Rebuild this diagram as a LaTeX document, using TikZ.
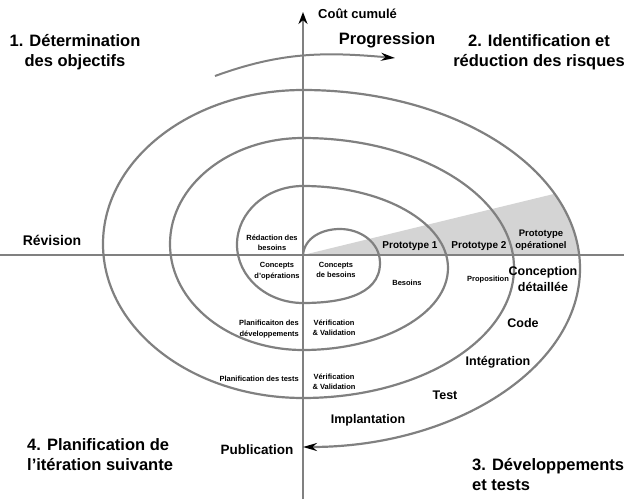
\documentclass[tikz,border=0pt]{standalone}
\usepackage{fontspec}
\setmainfont{Liberation Sans}
\usetikzlibrary{arrows.meta}
\definecolor{linegray}{HTML}{808080}
\definecolor{wedgegray}{HTML}{D4D4D4}
\def\drawspiral{\draw[color=linegray, line width=2.2pt]}
\def\drawaxis{\draw[color=linegray, line width=2pt]}
\def\tip{Stealth[length=14pt,width=8pt,color=black]}

\begin{document}
\begin{tikzpicture}[x=1pt,y=1pt,inner sep=0pt,
  quad/.style={font=\fontsize{16.5}{20}\selectfont\bfseries, align=center},
  stage/.style={font=\fontsize{12.5}{16}\selectfont\bfseries, align=center},
  proto/.style={font=\fontsize{10}{13}\selectfont\bfseries, align=center},
  tiny/.style={font=\fontsize{7.5}{10.5}\selectfont\bfseries, align=center}]
\useasboundingbox (-303,-244) rectangle (327,255);
\coordinate (O) at (0,0);

% -------- shaded wedge of the prototypes ---------
\begin{scope}
\clip (0,-13.5) ellipse [x radius=277, y radius=178.5];
\fill[wedgegray] (O) -- (300,73) -- (300,0) -- cycle;
\end{scope}

% -------- axes ---------
\coordinate (axis_left) at (-303,0);
\coordinate (axis_right) at (321,0);
\coordinate (axis_bottom) at (0,-244);
\coordinate (axis_top) at (0,243);
\drawaxis (axis_left) -- (axis_right);
\drawaxis[-{Stealth[length=12pt,width=9pt,color=black]}] (axis_bottom) -- (axis_top);

% -------- the spiral ---------
% inner loop from the origin, then half ellipses left / right
\coordinate (top0) at (37,26);
\coordinate (right0) at (77,-8);
\coordinate (bot0) at (0,-48);
\drawspiral[-{\tip}] (O) to[out=85,in=180] (top0) to[out=0,in=90] (right0)
  to[out=270,in=0] (bot0)
  arc[start angle=270, end angle=90, x radius=66, y radius=58.5]  % left 1
  arc[start angle=90, end angle=-90, x radius=145, y radius=82]   % right 1
  arc[start angle=270, end angle=90, x radius=133, y radius=106]  % left 2
  arc[start angle=90, end angle=-90, x radius=211, y radius=130]  % right 2
  arc[start angle=270, end angle=90, x radius=200, y radius=154]  % left 3
  arc[start angle=90, end angle=-90, x radius=277, y radius=178.5]; % right 3

% -------- progression arrow ---------
\coordinate (prog_start) at (-88,179);
\coordinate (prog_end) at (92,197);
\drawspiral[line width=2pt,-{\tip}] (prog_start) to[out=20,in=175] (prog_end);

% -------- quadrant titles ---------
\node[quad] (goals) at (-228,203) {1. Détermination\\des objectifs};
\node[quad] (risks) at (236,203) {2. Identification et\\réduction des risques};
\node[quad, align=left, anchor=west] (next) at (-276,-200) {4. Planification de\\l'itération suivante};
\node[quad, align=left, anchor=west] (dev) at (169,-220) {3. Développements\\et tests};
\node[quad] (progress) at (84,215) {Progression};
\node[font=\fontsize{13}{15}\selectfont\bfseries, anchor=west] (cost) at (15,241) {Coût cumulé};
\node[font=\fontsize{14}{16}\selectfont\bfseries] (revision) at (-251,15) {Révision};

% -------- prototypes ---------
\node[proto] (proto1) at (107,9) {Prototype 1};
\node[proto] (proto2) at (176,9) {Prototype 2};
\node[proto, font=\fontsize{9.5}{12.5}\selectfont\bfseries] (proto_op) at (238,15) {Prototype\\opérationel};

% -------- small labels ---------
\node[tiny] (redaction) at (-31,12) {Rédaction des\\besoins};
\node[tiny] (concept_op) at (-26,-16) {Concepts\\d'opérations};
\node[tiny] (concept_bes) at (33,-15) {Concepts\\de besoins};
\node[tiny] (needs) at (104,-28) {Besoins};
\node[tiny] (proposal) at (185,-25) {Proposition};
\node[tiny, align=right, anchor=east] (plan_dev) at (-4,-74) {Planificaiton des\\développements};
\node[tiny] (verif1) at (31,-73) {Vérification\\\& Validation};
\node[tiny, anchor=east] (plan_test) at (-4,-124) {Planification des tests};
\node[tiny] (verif2) at (31,-127) {Vérification\\\& Validation};

% -------- development stages ---------
\node[stage] (detail) at (240,-24) {Conception\\détaillée};
\node[stage] (code) at (220,-68) {Code};
\node[stage] (integration) at (195,-107) {Intégration};
\node[stage] (test) at (142,-140) {Test};
\node[stage] (deploy) at (65,-165) {Implantation};
\node[stage, font=\fontsize{13.5}{16}\selectfont\bfseries] (release) at (-46,-195) {Publication};
\end{tikzpicture}
\end{document}
